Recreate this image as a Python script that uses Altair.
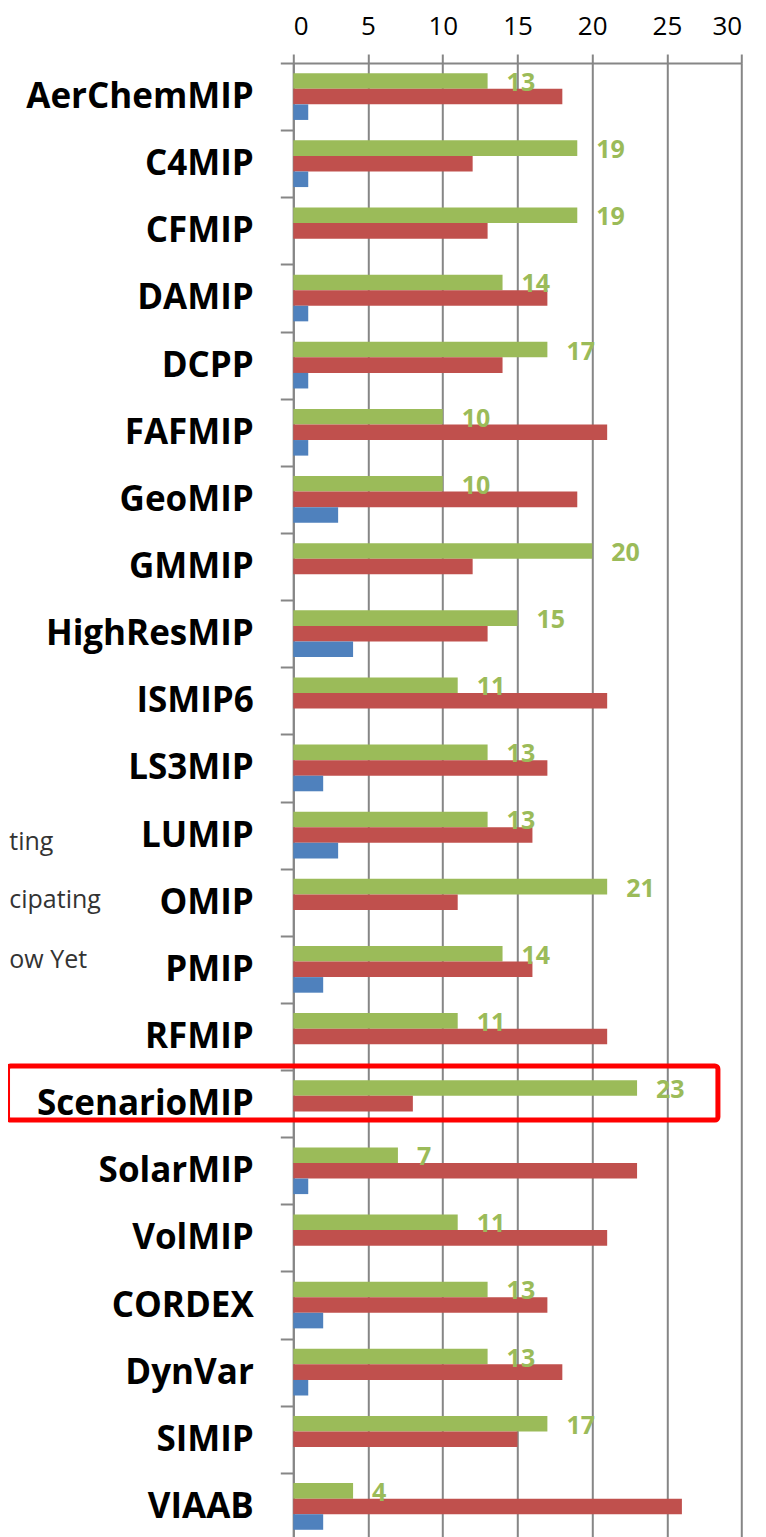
import altair as alt
import pandas as pd

# ---------------- data ----------------
categories = ["AerChemMIP", "C4MIP", "CFMIP", "DAMIP", "DCPP", "FAFMIP", "GeoMIP",
              "GMMIP", "HighResMIP", "ISMIP6", "LS3MIP", "LUMIP", "OMIP", "PMIP",
              "RFMIP", "ScenarioMIP", "SolarMIP", "VolMIP", "CORDEX", "DynVar",
              "SIMIP", "VIAAB"]
participating =     [13, 19, 19, 14, 17, 10, 10, 20, 15, 11, 13, 13, 21, 14, 11, 23, 7, 11, 13, 13, 17, 4]
not_participating = [18, 12, 13, 17, 14, 21, 19, 12, 13, 21, 17, 16, 11, 16, 21, 8, 23, 21, 17, 18, 15, 26]
dont_know =         [1, 1, 0, 1, 1, 1, 3, 0, 4, 0, 2, 3, 0, 2, 0, 0, 1, 0, 2, 1, 0, 2]
series = ["Participating", "Not Participating", "Don't Know Yet"]
x_ticks = [0, 5, 10, 15, 20, 25, 30]
legend_fragments = ["ting", "cipating", "ow Yet"]
highlight = "ScenarioMIP"

# ---------------- styles / layout ----------------
colors = ["#9BBB59", "#C0504D", "#4F81BD"]
grid_col = "#868686"
frag_x = [-284, -284, -284]
frag_y = [779, 837, 897]

rows = []
for i, c in enumerate(categories):
    for s, vals in zip(series, [participating, not_participating, dont_know]):
        rows.append({"mip": c, "status": s, "count": vals[i]})
df = pd.DataFrame(rows)

y_enc = alt.Y(
    "mip:N", sort=categories,
    scale=alt.Scale(paddingInner=0, paddingOuter=0),
    axis=alt.Axis(title=None, tickBand="extent", labelFont="Open Sans",
                  labelFontWeight="bold", labelFontSize=35, labelColor="black",
                  tickSize=13, tickColor=grid_col, tickWidth=2,
                  domainColor=grid_col, domainWidth=2, labelPadding=27,
                  grid=False, labelLimit=400),
)
x_enc = alt.X(
    "count:Q", scale=alt.Scale(domain=[0, 30], nice=False),
    axis=alt.Axis(orient="top", values=x_ticks, title=None, grid=True,
                  gridColor=grid_col, gridWidth=2, tickSize=9, tickColor=grid_col,
                  tickWidth=2, domainColor=grid_col, domainWidth=2,
                  labelFont="Open Sans", labelFontSize=26, labelColor="black",
                  labelPadding=15),
)
yoff_enc = alt.YOffset("status:N", sort=series,
                       scale=alt.Scale(domain=series, paddingOuter=0.656, paddingInner=0))

bars = alt.Chart(df).mark_bar().encode(
    x=x_enc, y=y_enc, yOffset=yoff_enc,
    color=alt.Color("status:N", scale=alt.Scale(domain=series, range=colors), legend=None),
)

labels = alt.Chart(df).transform_filter(
    alt.datum.status == "Participating"
).mark_text(align="left", baseline="middle", dx=19, dy=2, font="Open Sans",
            fontWeight="bold", fontSize=25, color="#9BBB59").encode(
    x="count:Q", y=alt.Y("mip:N", sort=categories), yOffset=alt.YOffset("status:N", sort=series),
    text="count:Q",
)

box = alt.Chart(pd.DataFrame({"mip": [highlight]})).mark_rect(
    filled=False, stroke="#FF0000", strokeWidth=5, cornerRadius=3,
    height=54, yOffset=-10.6, clip=False,
).encode(
    y=alt.Y("mip:N", sort=categories),
    x=alt.datum(-19.12), x2=alt.datum(28.41),
)

frag_df = pd.DataFrame({"t": legend_fragments, "px": frag_x, "py": frag_y})
frags = alt.Chart(frag_df).mark_text(
    align="left", baseline="middle", font="Open Sans", fontSize=25, color="#333333"
).encode(
    x=alt.X("px:Q", scale=None), y=alt.Y("py:Q", scale=None), text="t:N",
)

chart = alt.layer(bars, labels, box, frags).properties(
    width=448.4, height=1477,
    autosize=alt.AutoSizeParams(type="none"),
    padding={"left": 285.3, "top": 55, "right": 16, "bottom": 0},
).configure_view(stroke=None)

chart.save("out.html", embed_options={"renderer": "svg", "actions": False})
